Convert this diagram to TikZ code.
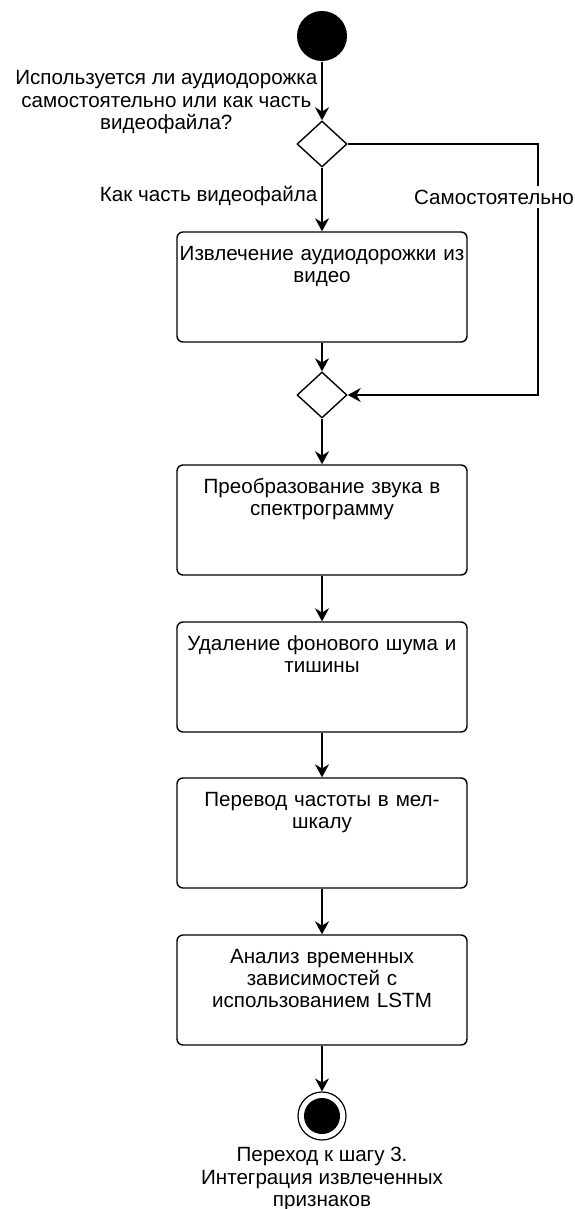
\documentclass[tikz,border=0pt]{standalone}
\usepackage{fontspec}
\setmainfont{Liberation Sans}
\usetikzlibrary{arrows.meta,shapes.geometric,positioning}

\begin{document}
\begin{tikzpicture}[x=0.5pt, y=-0.5pt, line width=0.7pt,
    font=\fontsize{10.3}{11.2}\selectfont, >={Stealth[length=6.5pt,width=7pt]},
    act/.style={draw, rounded corners=3pt, minimum width=145pt,
                inner xsep=0pt, inner ysep=0pt, text width=145pt, align=center,
                text height=14pt, text depth=41pt},
    dec/.style={draw, diamond, minimum width=25pt, minimum height=23pt, inner sep=0pt},
    ini/.style={circle, fill=black, minimum size=25pt, inner sep=0pt},
    fin/.style={circle, draw, line width=0.6pt, minimum size=24pt, inner sep=0pt,
                path picture={\fill (path picture bounding box.center) circle (9pt);}},
    lab/.style={align=center, inner sep=2pt}
]
    \useasboundingbox (0,0) rectangle (574,1209);

    % Start and branch
    \node[ini] (start) at (322,36) {};
    \node[dec] (d1) at (322,144) {};
    \node[act] (b1) at (322,287) {Извлечение аудиодорожки из\\видео};
    \node[dec] (d2) at (322,395) {};
    \coordinate (bypass) at (538,270);

    % Processing steps
    \node[act] (b2) at (322,520) {Преобразование звука в\\спектрограмму};
    \node[act] (b3) at (322,677) {Удаление фонового шума и\\тишины};
    \node[act] (b4) at (322,833) {Перевод частоты в мел-\\шкалу};
    \node[act] (b5) at (322,990) {Анализ временных\\зависимостей с\\использованием LSTM};

    % End
    \node[fin] (stop) at (322,1116) {};
    \node[lab, below=1pt of stop] (stoplab)
        {Переход к шагу 3.\\Интеграция извлеченных\\признаков};

    % Flows
    \draw[->] (start) -- (d1) node[pos=0.69, left, lab]
        {Используется ли аудиодорожка\\самостоятельно или как часть\\видеофайла?};
    \draw[->] (d1) -- (b1) node[pos=0.44, left, lab] {Как часть видеофайла};
    \draw[->] (d1.east) -| (bypass)
        node[pos=0.71, lab, fill=white, xshift=-22pt] {Самостоятельно} |- (d2.east);
    \draw[->] (b1) -- (d2);
    \draw[->] (d2) -- (b2);
    \draw[->] (b2) -- (b3);
    \draw[->] (b3) -- (b4);
    \draw[->] (b4) -- (b5);
    \draw[->] (b5) -- (stop);
\end{tikzpicture}
\end{document}
